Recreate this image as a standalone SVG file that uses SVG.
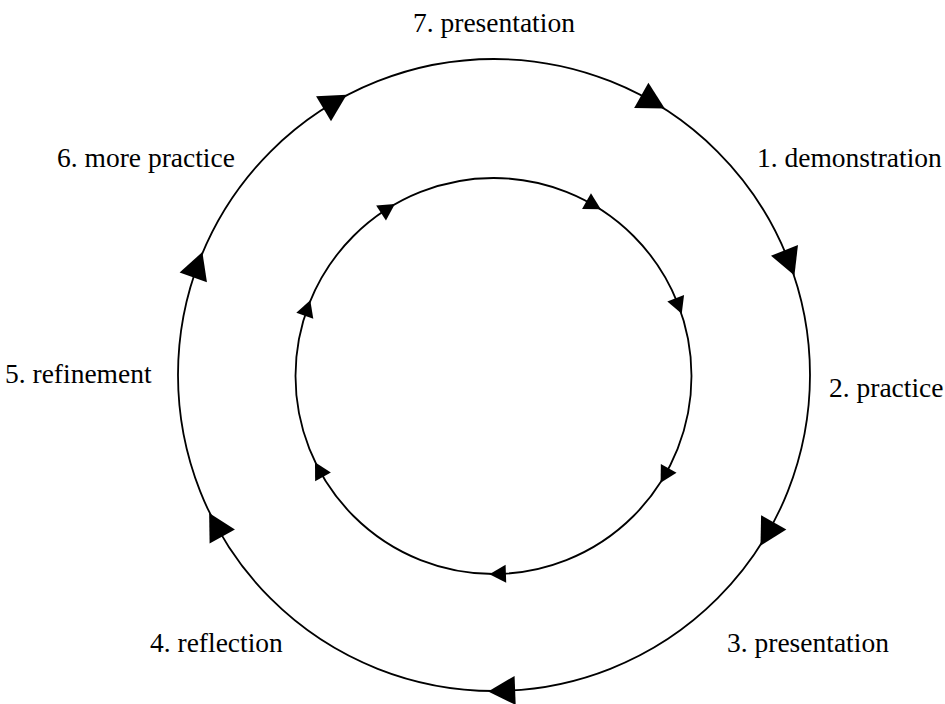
<svg xmlns="http://www.w3.org/2000/svg" xmlns:xlink="http://www.w3.org/1999/xlink" width="945" height="704" viewBox="0 0 945 704">
<style>
.lbl{font-family:"Liberation Serif","DejaVu Serif",serif;font-size:27.5px;fill:#000}
.ring{fill:none;stroke:#000;stroke-width:1.8}
.ah{fill:#000}
</style>
<defs>
<polygon id="aho" class="ah" points="18,0 -9,-14.5 -9,14.5"/>
<polygon id="ahi" class="ah" points="11,0 -5.5,-9 -5.5,9"/>
</defs>
<rect width="945" height="704" fill="#fff"/>
<g id="connectors">
<circle class="ring" cx="494" cy="375" r="316"/>
<circle class="ring" cx="493.5" cy="376" r="198"/>
<g id="outer-arrows">
<use xlink:href="#aho" transform="translate(494 375) rotate(-121) translate(316 0) rotate(90)"/>
<use xlink:href="#aho" transform="translate(494 375) rotate(-60.6) translate(316 0) rotate(90)"/>
<use xlink:href="#aho" transform="translate(494 375) rotate(-21.6) translate(316 0) rotate(90)"/>
<use xlink:href="#aho" transform="translate(494 375) rotate(29.4) translate(316 0) rotate(90)"/>
<use xlink:href="#aho" transform="translate(494 375) rotate(87.8) translate(316 0) rotate(90)"/>
<use xlink:href="#aho" transform="translate(494 375) rotate(150.9) translate(316 0) rotate(90)"/>
<use xlink:href="#aho" transform="translate(494 375) rotate(199.6) translate(316 0) rotate(90)"/>
</g>
<g id="inner-arrows">
<use xlink:href="#ahi" transform="translate(493.5 376) rotate(-123) translate(198 0) rotate(90)"/>
<use xlink:href="#ahi" transform="translate(493.5 376) rotate(-60.4) translate(198 0) rotate(90)"/>
<use xlink:href="#ahi" transform="translate(493.5 376) rotate(-21.5) translate(198 0) rotate(90)"/>
<use xlink:href="#ahi" transform="translate(493.5 376) rotate(29.4) translate(198 0) rotate(90)"/>
<use xlink:href="#ahi" transform="translate(493.5 376) rotate(88) translate(198 0) rotate(90)"/>
<use xlink:href="#ahi" transform="translate(493.5 376) rotate(151) translate(198 0) rotate(90)"/>
<use xlink:href="#ahi" transform="translate(493.5 376) rotate(199.3) translate(198 0) rotate(90)"/>
</g>
</g>
<g id="node-7"><text class="lbl" x="413" y="32">7. presentation</text></g>
<g id="node-1"><text class="lbl" x="757" y="167">1. demonstration</text></g>
<g id="node-2"><text class="lbl" x="829" y="397">2. practice</text></g>
<g id="node-3"><text class="lbl" x="727" y="652">3. presentation</text></g>
<g id="node-4"><text class="lbl" x="150" y="652">4. reflection</text></g>
<g id="node-5"><text class="lbl" x="5" y="383">5. refinement</text></g>
<g id="node-6"><text class="lbl" x="57" y="167">6. more practice</text></g>
</svg>
